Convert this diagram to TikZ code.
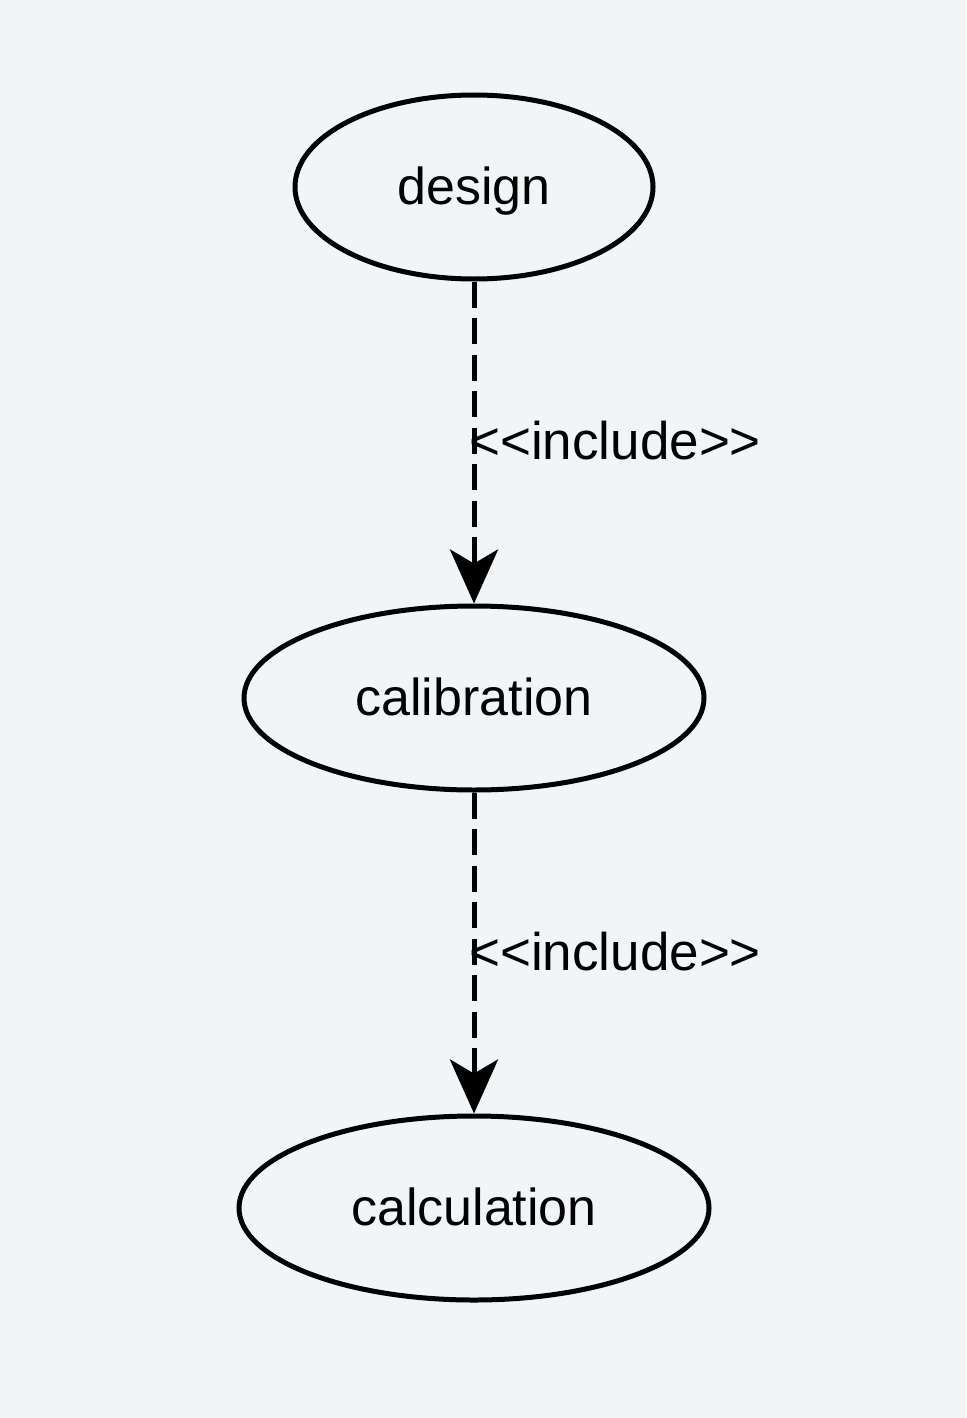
\documentclass[tikz,border=0pt]{standalone}
\usepackage{fontspec}
\setmainfont{Liberation Sans}[Ligatures=TeXOff]
\usetikzlibrary{arrows.meta,shapes.geometric}
\definecolor{bgcol}{HTML}{F2F5F7}
\tikzset{
  usecase/.style={draw=black, line width=5pt, ellipse, inner sep=0pt,
    font=\fontsize{52pt}{60pt}\selectfont, text height=37pt, text depth=3pt},
  includeline/.style={draw=black, line width=5pt, dash pattern=on 26pt off 10.5pt,
    -{Stealth[length=54pt, width=48pt, inset=14pt]}},
  includelabel/.style={inner sep=0pt, anchor=base west, font=\fontsize{53pt}{60pt}\selectfont}
}
\begin{document}
\begin{tikzpicture}[x=1pt, y=-1pt]
  \fill[bgcol] (0,0) rectangle (966,1418);
  \useasboundingbox (0,0) rectangle (966,1418);
  \node[usecase, minimum width=358pt, minimum height=184pt] (design) at (474,187) {design};
  \node[usecase, minimum width=460pt, minimum height=184pt] (calibration) at (474,698) {calibration};
  \node[usecase, minimum width=470pt, minimum height=184pt] (calculation) at (474,1208) {calculation};
  \draw[includeline] (design) -- (calibration);
  \draw[includeline] (calibration) -- (calculation);
  \node[includelabel] (inc1) at (469,459) {<\kern0pt<include>\kern0pt>};
  \node[includelabel] (inc2) at (469,970) {<\kern0pt<include>\kern0pt>};
\end{tikzpicture}
\end{document}
